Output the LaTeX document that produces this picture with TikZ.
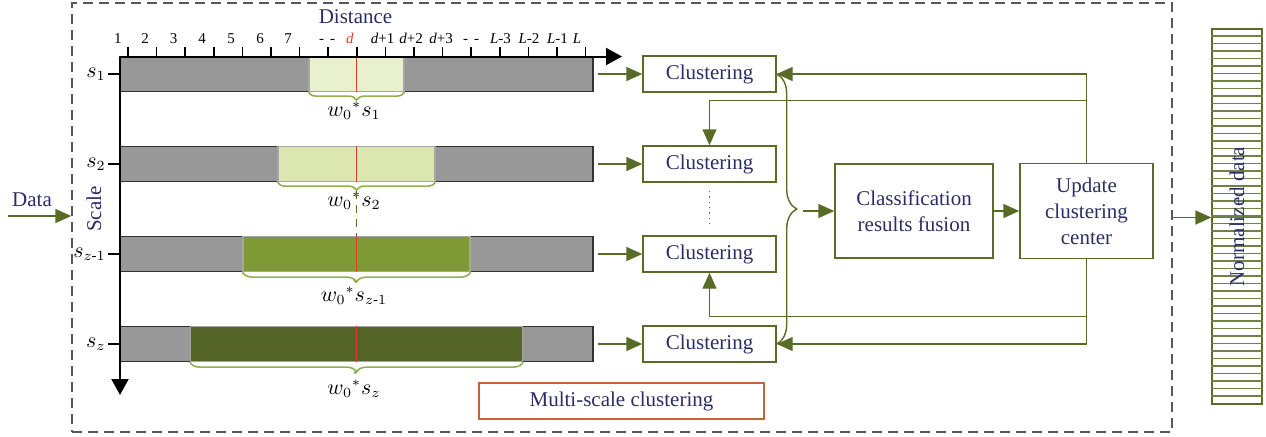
\documentclass[tikz,border=0pt]{standalone}
\usepackage{amsmath}
\usepackage{fontspec}
\setmainfont{Liberation Serif}
\usetikzlibrary{calc,positioning,arrows.meta,decorations.pathreplacing}
\definecolor{navy}{RGB}{42,46,100}
\definecolor{olive}{RGB}{88,108,40}
\definecolor{lightolive}{RGB}{146,176,80}
\definecolor{bargray}{RGB}{152,152,152}
\definecolor{winA}{RGB}{233,240,206}
\definecolor{winB}{RGB}{220,231,176}
\definecolor{winC}{RGB}{127,154,53}
\definecolor{winD}{RGB}{83,100,38}
\definecolor{cutred}{RGB}{228,60,40}
\definecolor{framered}{RGB}{197,100,60}

\begin{document}
\begin{tikzpicture}[x=0.5pt, y=-0.5pt, font=\fontsize{10.5}{13}\selectfont,
	bar/.style={draw=black!80, fill=bargray, line width=0.8pt, minimum width=236.5pt, minimum height=17.5pt, inner sep=0pt},
	win/.style={draw=black!35, line width=0.6pt, minimum height=17.5pt, inner sep=0pt},
	cut/.style={draw=cutred, line width=0.7pt},
	wbrace/.style={draw=lightolive, line width=0.8pt, decorate, decoration={brace, mirror, amplitude=#1}},
	axis/.style={draw=black, line width=1pt},
	bigtip/.style={-{Triangle[length=8pt, width=8.5pt]}},
	proc/.style={draw=olive, line width=0.7pt, text=navy, inner sep=0pt, align=center},
	clubox/.style={proc, minimum width=66.5pt, minimum height=18pt},
	flow/.style={draw=olive, line width=0.7pt, -{Triangle[length=8pt, width=7pt]}},
	lbl/.style={text=navy}
]
						\useasboundingbox (0,0) rectangle (1266,436);
						\node[draw=black!65, dash pattern=on 5pt off 3pt, line width=0.7pt, minimum width=550pt, minimum height=214.5pt, inner sep=0pt] (frame) at (622,217.5) {};
						
						\coordinate (datain) at (8,216);
						\node[lbl] (datalbl) at (32,200) {Data};
						\draw[flow] (datain) -- (datain -| frame.west);
						
						\node[bar] (bar1) at (356.5,74) {};
						\node[bar] (bar2) at (356.5,164) {};
						\node[bar] (bar3) at (356.5,254) {};
						\node[bar] (bar4) at (356.5,344) {};
						
						\node[win, fill=winA, minimum width=47.5pt] (win1) at (bar1) {};
						\node[win, fill=winB, minimum width=78.5pt] (win2) at (bar2) {};
						\node[win, fill=winC, minimum width=113.5pt] (win3) at (bar3) {};
						\node[win, fill=winD, minimum width=166pt] (win4) at (bar4) {};
						\foreach \i in {1,...,4} \draw[cut] (win\i.north) -- (win\i.south);
						
						\draw[wbrace=4pt] (win1.south west) -- (win1.south east);
						\draw[wbrace=4pt] (win2.south west) -- (win2.south east);
						\draw[wbrace=5pt] (win3.south west) -- (win3.south east);
						\draw[wbrace=5pt] (win4.south west) -- (win4.south east);
						
						\node (wl1) at (354,111) {$w_0{}^{*}s_1$};
						\node (wl2) at (354,201) {$w_0{}^{*}s_2$};
						\node (wl3) at (354,296) {$w_0{}^{*}s_{z\text{-}1}$};
						\node (wl4) at (354,389) {$w_0{}^{*}s_z$};
						\draw[draw=olive, dash pattern=on 4pt off 3pt, line width=0.7pt, shorten <=4.5pt] (win2.south) -- (win3.north);
						\draw[draw=lightolive, line width=1pt] (win3.south) ++(0,10) -- (wl3.north);
						\draw[draw=lightolive, line width=1pt] (win4.south) ++(0,10) -- (wl4.north);
						
						\coordinate (origin) at (120,56.5);
						\coordinate (xend) at (622,56.5);
						\coordinate (yend) at (120,395);
						\draw[axis, bigtip] (origin) -- (xend);
						\draw[axis, bigtip] (origin) -- (yend);
						\foreach \k in {0,...,16} \draw[black, line width=0.8pt] ({127.9+28.6*\k},47) -- ({127.9+28.6*\k},56.5);
						\foreach \x/\t [count=\i] in {118/1,145/2,173.5/3,202/4,231/5,260/6,288/7,327/{-\hspace{3pt}-},350/{\textcolor{cutred}{\textit{d}}},382.5/{\textit{d}+1},411/{\textit{d}+2},441/{\textit{d}+3},471/{-\hspace{3pt}-},500.5/{\textit{L}-3},529/{\textit{L}-2},557.5/{\textit{L}-1},577/{\textit{L}}}
							\node[font=\fontsize{7.5}{8}\selectfont, inner sep=0pt, anchor=base] (tick\i) at (\x,43) {\t};
						\node[lbl] (distlbl) at (355.5,17) {Distance};
						
						\node[anchor=east, inner sep=1pt] (s1) at (108,74) {$s_1$};
						\node[anchor=east, inner sep=1pt] (s2) at (108,164) {$s_2$};
						\node[anchor=east, inner sep=1pt] (s3) at (108,254) {$s_{z\text{-}1}$};
						\node[anchor=east, inner sep=1pt] (s4) at (108,344) {$s_z$};
						\foreach \i in {1,...,4} \draw[line width=0.6pt] (s\i.east) -- (bar\i.west);
						\node[lbl, rotate=90] (scalelbl) at (94,209) {Scale};
						
						\node[clubox] (clu1) at (709.5,74) {Clustering};
						\node[clubox] (clu2) at (709.5,164) {Clustering};
						\node[clubox] (clu3) at (709.5,254) {Clustering};
						\node[clubox] (clu4) at (709.5,344) {Clustering};
						\foreach \i in {1,...,4} \draw[flow, shorten <=2pt] (bar\i.east) -- (clu\i.west);
						\draw[draw=olive, dotted, line width=0.7pt, shorten <=4pt, shorten >=6pt] (clu2.south) -- (clu3.north);
						
						\node[proc, minimum width=79pt, minimum height=47pt] (fusion) at (914,211) {Classification\\results fusion};
						\node[proc, minimum width=66.5pt, minimum height=47.5pt] (update) at (1086.5,211) {Update\\clustering\\center};
						\node[draw=framered, line width=0.7pt, text=navy, minimum width=142.5pt, minimum height=18pt, inner sep=0pt] (multi) at (621.5,401) {Multi-scale clustering};
						
						\draw[draw=olive, line width=0.7pt, decorate, decoration={brace, amplitude=10pt}] (clu1.east) -- (clu4.east);
						\coordinate (fusein) at (803,211);
						\draw[flow] (fusein) -- (fusion.west);
						\draw[flow] (fusion) -- (update);
						
						\path (update.north) ++(0,-62.5) coordinate (upA);
						\path (update.south) ++(0,57.5) coordinate (upB);
						\draw[flow] (update.north) |- (clu1.east);
						\draw[flow] (upA) -| (clu2.north);
						\draw[flow] (update.south) |- (clu4.east);
						\draw[flow] (upB) -| (clu3.south);
						
						\node[draw=olive, line width=0.6pt, minimum width=25pt, minimum height=187.5pt, inner sep=0pt] (norm) at (1237,216.5) {};
						\foreach \i in {1,...,49} \draw[draw=olive!85, line width=0.6pt] ($(norm.north west)+(0,7.5*\i)$) -- ($(norm.north east)+(0,7.5*\i)$);
						\draw[cut] (norm.west |- frame.east) -- (norm.east |- frame.east);
						\draw[flow] (frame.east) -- (frame.east -| norm.west);
						\node[lbl, rotate=90] (normlbl) at (norm) {Normalized data};
\end{tikzpicture}
\end{document}
